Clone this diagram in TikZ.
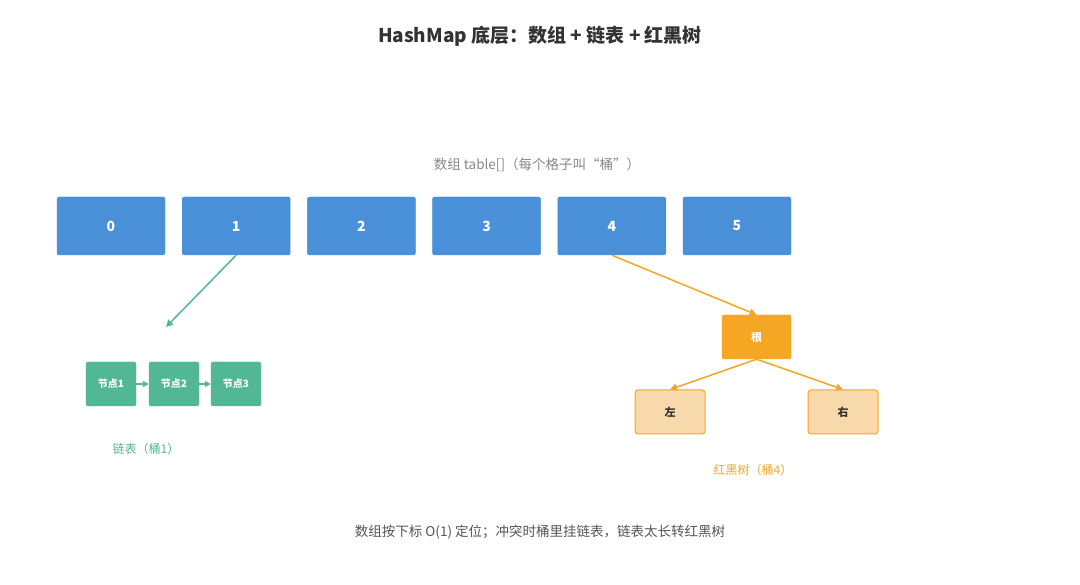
\documentclass[tikz,border=0pt]{standalone}
\usepackage{fontspec}
\setmainfont{Noto Sans CJK SC}
\usetikzlibrary{arrows.meta}
\definecolor{blue1}{HTML}{4A90D9}
\definecolor{green1}{HTML}{52B795}
\definecolor{orange1}{HTML}{F5A623}
\definecolor{lorange}{HTML}{F8D9AB}
\definecolor{title}{HTML}{333333}
\definecolor{gray1}{HTML}{888888}
\definecolor{gray2}{HTML}{555555}
\tikzset{
  x=1pt,y=-1pt,
  arr/.style={draw,fill=blue1,draw=blue1,rounded corners=2pt,minimum width=108pt,minimum height=58pt,inner sep=0pt,text=white,font=\fontsize{14}{16}\selectfont\bfseries},
  lnode/.style={fill=green1,draw=green1,rounded corners=2pt,minimum width=50pt,minimum height=44pt,inner sep=0pt,text=white,font=\fontsize{10}{12}\selectfont\bfseries},
  root/.style={fill=orange1,draw=orange1,rounded corners=2pt,minimum width=69pt,minimum height=44pt,inner sep=0pt,text=white,font=\fontsize{11}{13}\selectfont\bfseries},
  leaf/.style={fill=lorange,draw=orange1,line width=1pt,rounded corners=3pt,minimum width=70pt,minimum height=44pt,inner sep=0pt,text=title,font=\fontsize{11}{13}\selectfont\bfseries},
  garrow/.style={draw=green1,line width=1.5pt,-{Triangle[length=7pt,width=7pt]}},
  oarrow/.style={draw=orange1,line width=1.5pt,-{Triangle[length=7pt,width=7pt]}},
}
\begin{document}
\begin{tikzpicture}
\useasboundingbox[fill=white] (0,0) rectangle (1080,585);
\node[font=\fontsize{19}{22}\selectfont\bfseries,text=title] (t) at (540,36) {HashMap 底层：数组 + 链表 + 红黑树};
\node[font=\fontsize{13.5}{16}\selectfont,text=gray1] (sub) at (537,165) {数组 table[]（每个格子叫“桶”）};
\foreach \i in {0,...,5} {
  \node[arr] (b\i) at ({111+125.2*\i},226) {\i};
}
\coordinate (gend) at (166,327);
\draw[garrow] (b1.south) -- (gend);
\node[lnode] (n1) at (111,384) {节点1};
\node[lnode] (n2) at (174,384) {节点2};
\node[lnode] (n3) at (236,384) {节点3};
\draw[draw=green1,line width=1.5pt,-{Triangle[length=6pt,width=6pt]}] (n1) -- (n2);
\draw[draw=green1,line width=1.5pt,-{Triangle[length=6pt,width=6pt]}] (n2) -- (n3);
\node[font=\fontsize{12}{14}\selectfont,text=green1] (ll) at (146,449) {链表（桶1）};
\node[root] (r) at (756.5,337) {根};
\node[leaf] (l) at (670,412) {左};
\node[leaf] (rr) at (843,412) {右};
\draw[oarrow] (b4.south) -- (r.north);
\draw[oarrow] (r.south) -- (l.north);
\draw[oarrow] (r.south) -- (rr.north);
\node[font=\fontsize{12}{14}\selectfont,text=orange1] (tl) at (753,470) {红黑树（桶4）};
\node[font=\fontsize{13.5}{16}\selectfont,text=gray2] (ft) at (540,532) {数组按下标 O(1) 定位；冲突时桶里挂链表，链表太长转红黑树};
\end{tikzpicture}
\end{document}
